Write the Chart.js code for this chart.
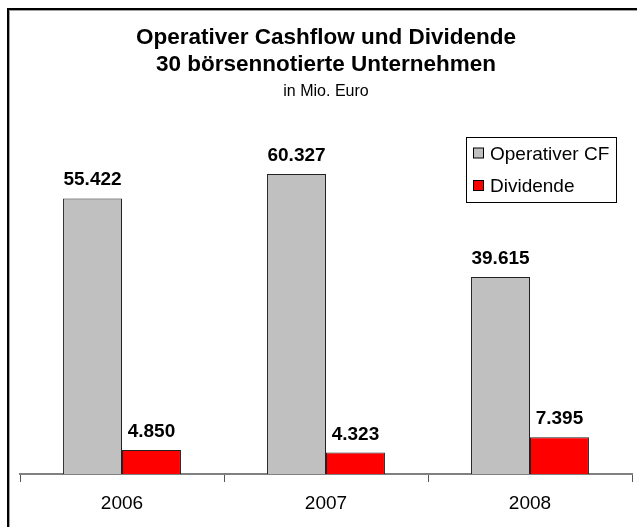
<!DOCTYPE html>
<html>
<head>
<meta charset="utf-8">
<script src="https://cdn.jsdelivr.net/npm/chart.js@4.4.1/dist/chart.umd.min.js"></script>
<style>
html,body{margin:0;padding:0;background:#fff;}
#wrap{width:637px;height:527px;position:relative;}
</style>
</head>
<body>
<div id="wrap"><canvas id="c" width="637" height="527"></canvas></div>
<script>
const categories = ["2006", "2007", "2008"];
const seriesNames = ["Operativer CF", "Dividende"];
const operativerCF = [55422, 60327, 39615];
const dividende = [4850, 4323, 7395];
const titleLines = ["Operativer Cashflow und Dividende", "30 börsennotierte Unternehmen"];
const subtitleText = "in Mio. Euro";

const FONT = "'Liberation Sans', Arial, Helvetica, sans-serif";

function fmt(v) {
  try { return new Intl.NumberFormat('de-DE').format(v); }
  catch (e) { return String(v).replace(/\B(?=(\d{3})+(?!\d))/g, '.'); }
}

const frame = {
  id: 'frame',
  afterDraw(chart) {
    const ctx = chart.ctx;
    ctx.save();
    ctx.fillStyle = '#000';
    ctx.fillRect(7, 8, 637, 2);
    ctx.fillRect(7, 8, 2, 527);
    ctx.fillStyle = '#a0a0a0';
    ctx.fillRect(9, 10, 637, 1);
    ctx.fillRect(9, 10, 1, 527);
    ctx.restore();
  }
};

const valueLabels = {
  id: 'valueLabels',
  afterDatasetsDraw(chart) {
    const ctx = chart.ctx;
    ctx.save();
    ctx.font = "bold 19px " + FONT;
    ctx.fillStyle = '#000';
    ctx.textAlign = 'center';
    ctx.textBaseline = 'alphabetic';
    chart.data.datasets.forEach((ds, i) => {
      const meta = chart.getDatasetMeta(i);
      meta.data.forEach((bar, j) => {
        ctx.fillText(fmt(ds.data[j]), bar.x, bar.y - 13);
      });
    });
    ctx.restore();
  }
};

const boxLegend = {
  id: 'boxLegend',
  afterDraw(chart) {
    const ctx = chart.ctx;
    ctx.save();
    ctx.strokeStyle = '#000';
    ctx.lineWidth = 1;
    ctx.fillStyle = '#fff';
    ctx.fillRect(466.5, 137.5, 150, 65);
    ctx.strokeRect(466.5, 137.5, 150, 65);
    ctx.font = "19px " + FONT;
    ctx.textBaseline = 'alphabetic';
    ctx.textAlign = 'left';
    const rows = [159.5, 192];
    chart.data.datasets.forEach((ds, i) => {
      const y = rows[i];
      ctx.fillStyle = ds.backgroundColor;
      ctx.fillRect(473.5, y - 11.5, 10, 10);
      ctx.strokeStyle = '#000';
      ctx.strokeRect(473.5, y - 11.5, 10, 10);
      ctx.fillStyle = '#000';
      ctx.fillText(ds.label, 490, y);
    });
    ctx.restore();
  }
};

new Chart(document.getElementById('c'), {
  type: 'bar',
  data: {
    labels: categories,
    datasets: [
      { label: seriesNames[0], data: operativerCF, backgroundColor: '#c0c0c0', borderColor: '#222', borderWidth: 1 },
      { label: seriesNames[1], data: dividende, backgroundColor: '#ff0000', borderColor: '#222', borderWidth: 1 }
    ]
  },
  options: {
    responsive: false,
    animation: false,
    layout: { padding: { left: 20, right: 5, top: 0, bottom: 0 } },
    categoryPercentage: 0.578,
    barPercentage: 1.0,
    plugins: {
      legend: { display: false },
      tooltip: { enabled: false },
      title: {
        display: true,
        text: titleLines,
        color: '#000',
        font: { family: FONT, size: 22.5, weight: 'bold', lineHeight: '26.5px' },
        padding: { top: 24.75, bottom: 0 }
      },
      subtitle: {
        display: true,
        text: subtitleText,
        color: '#000',
        font: { family: FONT, size: 16, weight: 'normal', lineHeight: '19px' },
        padding: { top: 4, bottom: 25.25 }
      }
    },
    scales: {
      x: {
        offset: true,
        grid: { display: true, offset: true, drawOnChartArea: false, drawTicks: true, tickLength: 8, color: '#555', lineWidth: 1 },
        border: { display: true, color: '#808080', width: 2 },
        ticks: { color: '#000', font: { family: FONT, size: 19 }, padding: 10, maxRotation: 0 },
        afterFit(scale) { scale.height = 53; }
      },
      y: {
        display: false,
        min: 0,
        max: 70000
      }
    }
  },
  plugins: [frame, valueLabels, boxLegend]
});
</script>
</body>
</html>
